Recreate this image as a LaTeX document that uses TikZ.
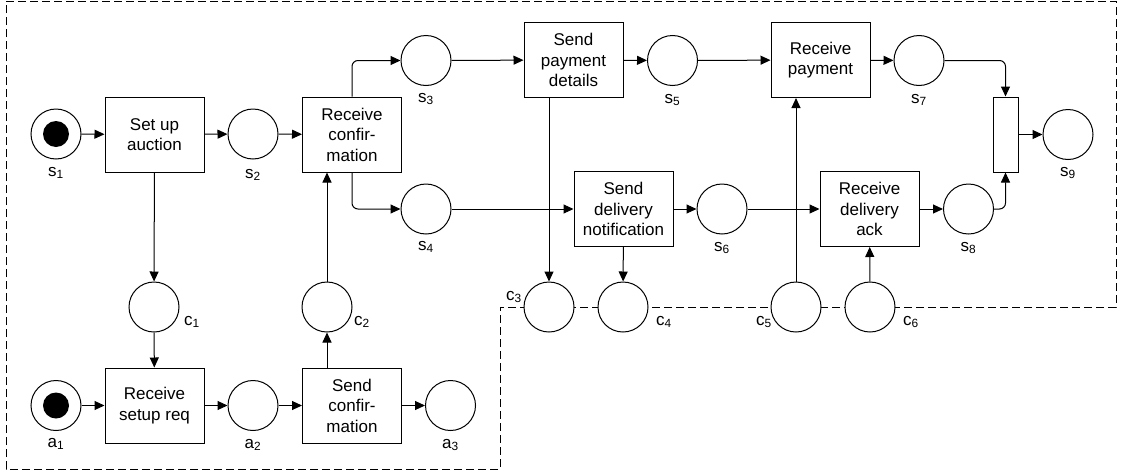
\documentclass[tikz,border=0pt]{standalone}
\usepackage{fontspec}
\setmainfont{Liberation Sans}
\usetikzlibrary{arrows.meta}
\begin{document}
\begin{tikzpicture}[x=1pt,y=-1pt,
  place/.style={circle,draw,line width=1pt,fill=white,minimum size=50pt,inner sep=0pt},
  trans/.style={rectangle,draw,line width=1pt,fill=white,minimum width=99pt,minimum height=75pt,inner sep=1pt,align=center,font=\fontsize{17}{20.5}\selectfont},
  bar/.style={rectangle,draw,line width=1pt,fill=white,minimum width=25pt,minimum height=75pt,inner sep=0pt},
  token/.style={circle,fill=black,minimum size=26pt,inner sep=0pt},
  lab/.style={font=\fontsize{17}{20}\selectfont,inner sep=0pt},
  arr/.style={line width=1pt,-{Triangle[length=10pt,width=9pt]}},
  bentarr/.style={arr,rounded corners=6pt},
  border/.style={line width=1pt,dash pattern=on 8pt off 4pt}
]
\useasboundingbox (0,0) rectangle (1123,474);
% dashed border
\draw[border] (6,1) -- (1116,1) -- (1116,307) -- (500,307) -- (500,469) -- (6,469) -- cycle;

% places top
\node[place] (s1) at (56,134) {};
\node[token] (t1) at (s1.center) {};
\node[place] (s2) at (253,134) {};
\node[place] (s3) at (426,60.5) {};
\node[place] (s4) at (426,209) {};
\node[place] (s5) at (672.5,60.5) {};
\node[place] (s6) at (722,209) {};
\node[place] (s7) at (919,60.5) {};
\node[place] (s8) at (968.5,209) {};
\node[place] (s9) at (1068,134.5) {};
% channel places
\node[place] (c1) at (154,307) {};
\node[place] (c2) at (327,307) {};
\node[place] (c3) at (549,307) {};
\node[place] (c4) at (623,307) {};
\node[place] (c5) at (796,307) {};
\node[place] (c6) at (870,307) {};
% bottom places
\node[place] (a1) at (56,405.5) {};
\node[token] (t2) at (a1.center) {};
\node[place] (a2) at (253,405.5) {};
\node[place] (a3) at (450.5,405.5) {};

% transitions
\node[trans] (setup) at (154.5,134.5) {Set up\\auction};
\node[trans] (rconf) at (352,134.5) {Receive\\confir-\\mation};
\node[trans] (spay) at (573.5,60) {Send\\payment\\details};
\node[trans] (rpay) at (820.5,60) {Receive\\payment};
\node[trans] (sdel) at (623.5,209) {Send\\delivery\\notification};
\node[trans] (rack) at (869.5,209) {Receive\\delivery\\ack};
\node[bar] (join) at (1005.5,134.5) {};
\node[trans] (rsetup) at (154.5,405.5) {Receive\\setup req};
\node[trans] (sconf) at (352,405.5) {Send\\confir-\\mation};

% labels
\node[lab] (ls1) at (56,173) {s\textsubscript{1}};
\node[lab] (ls2) at (253,175) {s\textsubscript{2}};
\node[lab] (ls3) at (426,99) {s\textsubscript{3}};
\node[lab] (ls4) at (426,247) {s\textsubscript{4}};
\node[lab] (ls5) at (672.5,100) {s\textsubscript{5}};
\node[lab] (ls6) at (722,248) {s\textsubscript{6}};
\node[lab] (ls7) at (919,100) {s\textsubscript{7}};
\node[lab] (ls8) at (968.5,248) {s\textsubscript{8}};
\node[lab] (ls9) at (1068,173) {s\textsubscript{9}};
\node[lab] (lc1) at (192,322) {c\textsubscript{1}};
\node[lab] (lc2) at (362,322) {c\textsubscript{2}};
\node[lab] (lc3) at (514,297) {c\textsubscript{3}};
\node[lab] (lc4) at (664,322) {c\textsubscript{4}};
\node[lab] (lc5) at (764,322) {c\textsubscript{5}};
\node[lab] (lc6) at (911,322) {c\textsubscript{6}};
\node[lab] (la1) at (56,444) {a\textsubscript{1}};
\node[lab] (la2) at (253,445) {a\textsubscript{2}};
\node[lab] (la3) at (450.5,445) {a\textsubscript{3}};

% arcs
\draw[arr] (s1) -- (setup);
\draw[arr] (setup) -- (s2);
\draw[arr] (s2) -- (rconf);
\draw[bentarr] (rconf.north) |- (s3.west);
\draw[bentarr] (rconf.south) |- (s4.west);
\draw[arr] (s3) -- (spay);
\draw[arr] (spay) -- (s5);
\draw[arr] (s5) -- (rpay);
\draw[arr] (rpay) -- (s7);
\draw[bentarr] (s7.east) -| (join.north);
\draw[bentarr] (s8.east) -| (join.south);
\draw[arr] (join) -- (s9);
\draw[arr] (s4) -- (sdel);
\draw[arr] (sdel) -- (s6);
\draw[arr] (s6) -- (rack);
\draw[arr] (rack) -- (s8);
\draw[arr] (c3 |- spay.south) -- (c3.north);
\draw[arr] (sdel) -- (c4);
\draw[arr] (c5.north) -- (c5 |- rpay.south);
\draw[arr] (c6) -- (rack);
\draw[arr] (setup) -- (c1);
\draw[arr] (c1) -- (rsetup);
\draw[arr] (a1) -- (rsetup);
\draw[arr] (rsetup) -- (a2);
\draw[arr] (a2) -- (sconf);
\draw[arr] (sconf) -- (a3);
\draw[arr] (c2 |- sconf.north) -- (c2.south);
\draw[arr] (c2.north) -- (c2 |- rconf.south);
\end{tikzpicture}
\end{document}
